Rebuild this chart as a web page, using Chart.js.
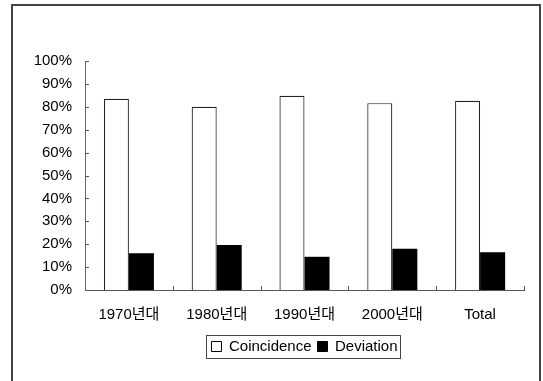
<!DOCTYPE html>
<html>
<head>
<meta charset="utf-8">
<script src="https://cdn.jsdelivr.net/npm/chart.js@4"></script>
<style>
html,body{margin:0;padding:0;background:#fff;}
#wrap{width:543px;height:381px;position:relative;}
</style>
</head>
<body>
<div id="wrap"><canvas id="c" width="543" height="381"></canvas></div>
<script>
const categories = ['1970년대', '1980년대', '1990년대', '2000년대', 'Total'];
const coincidence = [83.5, 80.0, 84.8, 81.6, 82.6];
const deviation = [16.1, 19.6, 14.5, 18.0, 16.5];
const yTicks = [0, 10, 20, 30, 40, 50, 60, 70, 80, 90, 100];

const FONT = "'Liberation Sans', Arial, 'Noto Sans CJK KR', sans-serif";

const framePlugin = {
  id: 'frame',
  afterLayout(chart) {
    const lg = chart.legend;
    const area = chart.chartArea;
    if (lg) {
      lg.left = area.left;
      lg.right = area.right;
      lg.width = area.right - area.left;
    }
  },
  beforeDraw(chart) {
    const ctx = chart.ctx;
    ctx.save();
    ctx.fillStyle = '#fff';
    ctx.fillRect(0, 0, chart.width, chart.height);
    ctx.strokeStyle = '#444';
    ctx.lineWidth = 2;
    ctx.beginPath();
    ctx.moveTo(12, chart.height + 2);
    ctx.lineTo(12, 5);
    ctx.lineTo(540, 5);
    ctx.lineTo(540, chart.height + 2);
    ctx.stroke();
    ctx.restore();
  },
  afterDraw(chart) {
    const ctx = chart.ctx;
    const x = chart.scales.x;
    const y = chart.scales.y;
    const area = chart.chartArea;
    ctx.save();
    ctx.strokeStyle = '#555';
    ctx.lineWidth = 1;
    const n = categories.length;
    const step = (area.right - area.left) / n;
    for (let i = 1; i <= n; i++) {
      const px = Math.round(x.getPixelForValue(i - 1) + step / 2) + 0.5;
      ctx.beginPath();
      ctx.moveTo(px, area.bottom);
      ctx.lineTo(px, area.bottom - 4);
      ctx.stroke();
    }
    for (const v of yTicks) {
      const py = Math.round(y.getPixelForValue(v)) + 0.5;
      ctx.beginPath();
      ctx.moveTo(area.left, py);
      ctx.lineTo(area.left + 4, py);
      ctx.stroke();
    }
    // legend border
    const lg = chart.legend;
    if (lg && lg.legendHitBoxes && lg.legendHitBoxes.length) {
      const hb = lg.legendHitBoxes;
      const l = Math.min(...hb.map(h => h.left)) - 5;
      const r = Math.max(...hb.map(h => h.left + h.width)) + 3;
      const t = Math.min(...hb.map(h => h.top)) - 4;
      const b = Math.max(...hb.map(h => h.top + h.height)) + 4;
      ctx.strokeStyle = '#444';
      ctx.strokeRect(Math.round(l) + 0.5, Math.round(t) + 0.5, Math.round(r - l), Math.round(b - t));
    }
    ctx.restore();
  }
};

new Chart(document.getElementById('c'), {
  type: 'bar',
  data: {
    labels: categories,
    datasets: [
      { label: 'Coincidence', data: coincidence, backgroundColor: '#fff', borderColor: '#222', borderWidth: 1.2,
        categoryPercentage: 0.57, barPercentage: 1.0 },
      { label: 'Deviation', data: deviation, backgroundColor: '#000', borderColor: '#000', borderWidth: 0,
        categoryPercentage: 0.57, barPercentage: 1.0 }
    ]
  },
  options: {
    responsive: false,
    animation: false,
    devicePixelRatio: 1,
    layout: { padding: { left: 0, right: 19, top: 61, bottom: 17 } },
    plugins: {
      tooltip: { enabled: false },
      legend: {
        position: 'bottom',
        labels: {
          color: '#000',
          font: { family: FONT, size: 15 },
          boxWidth: 10,
          boxHeight: 10,
          padding: 6,
          generateLabels(chart) {
            return chart.data.datasets.map((ds, i) => ({
              text: ds.label,
              fillStyle: ds.backgroundColor,
              strokeStyle: '#000',
              lineWidth: 1,
              fontColor: '#000',
              hidden: false,
              datasetIndex: i
            }));
          }
        }
      }
    },
    scales: {
      x: {
        grid: { display: false, tickLength: 0 },
        border: { display: true, color: '#555', width: 1 },
        ticks: { color: '#000', font: { family: FONT, size: 15 }, padding: 16, maxRotation: 0 },
        afterFit(scale) { scale.height = 43; }
      },
      y: {
        min: 0,
        max: 100,
        afterBuildTicks(scale) { scale.ticks = yTicks.map(v => ({ value: v })); },
        grid: { display: false, tickLength: 0 },
        border: { display: true, color: '#666', width: 1 },
        ticks: { color: '#000', font: { family: FONT, size: 15 }, padding: 13,
          callback: v => v + '%' },
        afterFit(scale) { scale.width = 85; }
      }
    }
  },
  plugins: [framePlugin]
});
</script>
</body>
</html>
